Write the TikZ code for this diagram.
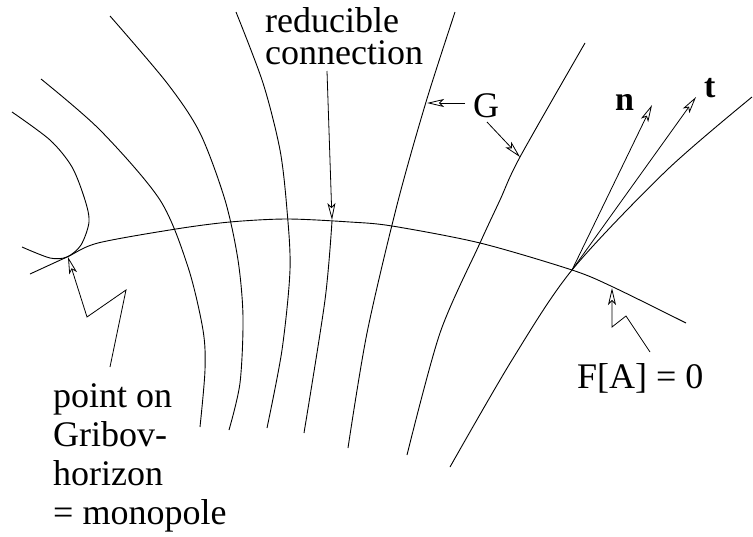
\documentclass[tikz,border=0pt]{standalone}
\usepackage{fontspec}
\setmainfont{Liberation Serif}
\usetikzlibrary{arrows.meta}

\tikzset{
  orbit/.style={line width=0.9pt},
  pointer/.style={line width=0.8pt, -{Stealth[open, length=17pt, width=8pt, inset=4pt]}},
  lab/.style={inner sep=0pt, font=\fontsize{36}{39}\selectfont},
}

\begin{document}
\begin{tikzpicture}[x=1pt, y=-1pt]
\useasboundingbox (0,0) rectangle (753,536);

% gauge orbits, left to right (pixel coordinates, y down)
\draw[orbit] plot[smooth] coordinates {(12,112) (50,140) (72,167) (85,200) (89,222) (81,245) (67,257) (50,258) (22,247)};
\draw[orbit] plot[smooth] coordinates {(41,79) (100,130) (160,200) (188,267) (203,330) (205,370) (200,427)};
\draw[orbit] plot[smooth] coordinates {(110,16) (167,83) (200,133) (225,200) (238,260) (243,317) (240,383) (229,430)};
\draw[orbit] plot[smooth] coordinates {(236,12) (263,83) (280,150) (287,210) (290,270) (282,350) (267,428)};
\draw[orbit] plot[smooth] coordinates {(332,221) (325,300) (304,433)};
\draw[orbit] plot[smooth] coordinates {(455,12) (426,102) (397,205) (367,333) (348,448)};
\draw[orbit] plot[smooth] coordinates {(585,43) (520,157) (500,200) (480,243) (440,333) (407,455)};
\draw[orbit] plot[smooth] coordinates {(450,467) (512,360) (572,270) (667,170) (752,97)};

% gauge slice F[A] = 0
\draw[orbit] plot[smooth] coordinates {(30,274) (67,257) (98,243) (176,229) (230,222) (287,219) (350,222) (392,226) (480,243) (572,270) (613,287) (686,323)};

% labels (base = last line)
\node[lab, anchor=base west, align=left, font=\fontsize{36}{32}\selectfont] (redu) at (265,64) {reducible\\connection};
\node[lab, anchor=base west, align=left] (gribov) at (53,524) {point on\\Gribov-\\horizon\\= monopole};
\node[lab, anchor=base] (G) at (486,117) {G};
\node[lab, anchor=base west] (slice) at (577,388) {F[A] = 0};
\node[lab, anchor=base west, font=\fontsize{34}{39}\selectfont\bfseries] (n) at (615,110) {n};
\node[lab, anchor=base west, font=\fontsize{34}{39}\selectfont\bfseries] (t) at (704,97) {t};

% pointer ends
\coordinate (cross) at (572,270);
\coordinate (redutail) at (327,71);
\coordinate (redutip) at (332,220);
\coordinate (gtailA) at (465,103);
\coordinate (gtipA) at (427,103);
\coordinate (gtailB) at (487,122);
\coordinate (gtipB) at (520,157);
\coordinate (ntip) at (652,105);
\coordinate (ttip) at (696,97);
\coordinate (gribtail) at (110,367);
\coordinate (gribtip) at (68,257);
\coordinate (slicetail) at (650,352);
\coordinate (slicetip) at (612,288);

% pointers
\draw[pointer] (redutail) -- (redutip);
\draw[pointer] (gtailA) -- (gtipA);
\draw[pointer] (gtailB) -- (gtipB);
\draw[pointer] (cross) -- (ntip);
\draw[pointer] (cross) -- (ttip);
\draw[pointer] (gribtail) -- (126,290) -- (87,317) -- (gribtip);
\draw[pointer] (slicetail) -- (626,316) -- (612,327) -- (slicetip);

\end{tikzpicture}
\end{document}
